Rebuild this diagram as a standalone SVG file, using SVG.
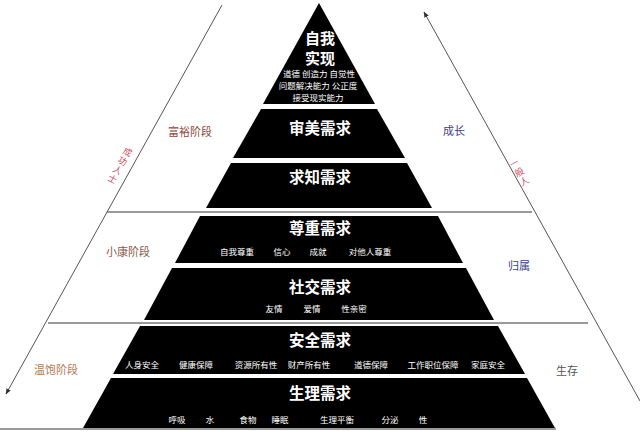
<svg xmlns="http://www.w3.org/2000/svg" width="640" height="432" viewBox="0 0 640 432">
<style>
.band{fill:#000}
.t{font-family:"Noto Sans CJK SC","Liberation Sans",sans-serif;fill:#fff;font-weight:bold;font-size:15.5px;text-anchor:middle}
.t2{font-family:"Noto Sans CJK SC","Liberation Sans",sans-serif;fill:#fff;font-weight:bold;font-size:15px;text-anchor:middle}
.s{font-family:"Noto Sans CJK SC","Liberation Sans",sans-serif;fill:#fff;font-size:8.5px;text-anchor:middle}
.l{font-family:"Noto Sans CJK SC","Liberation Sans",sans-serif;font-size:11px;text-anchor:middle}
.r{font-family:"Noto Sans CJK SC","Liberation Sans",sans-serif;font-size:9px;fill:#d04a66;text-anchor:middle}
.sep{stroke:#9a9a9a;stroke-width:2}
.diag{stroke:#555;stroke-width:1;fill:none}
</style>
<defs>
<marker id="ah" viewBox="0 0 10 10" refX="9" refY="5" markerWidth="6" markerHeight="6" orient="auto">
<path d="M0,1 L10,5 L0,9 z" fill="#333"/>
</marker>
</defs>
<rect width="640" height="432" fill="#fff"/>
<g id="connectors">
<line class="sep" x1="107" y1="212" x2="532" y2="212"/>
<line class="sep" x1="48" y1="323" x2="588" y2="323"/>
<line class="sep" x1="0" y1="429" x2="556" y2="429"/>
<line class="diag" x1="222" y1="5" x2="6" y2="394" marker-end="url(#ah)"/>
<line class="diag" x1="640" y1="401" x2="424" y2="12" marker-end="url(#ah)"/>
</g>
<g id="self-actualization">
<polygon class="band" points="319,3 375,104 263,104"/>
<text class="t2" x="320" y="44">自我</text>
<text class="t2" x="320" y="64">实现</text>
<text class="s" x="319" y="77">道德  创造力 自觉性</text>
<text class="s" x="318" y="89">问题解决能力   公正度</text>
<text class="s" x="318" y="101">接受现实能力</text>
</g>
<g id="aesthetic">
<polygon class="band" points="261,109 377,109 405,158 233,158"/>
<text class="t" x="320" y="134">审美需求</text>
</g>
<g id="cognitive">
<polygon class="band" points="231,163 407,163 432,208 206,208"/>
<text class="t" x="320" y="183">求知需求</text>
</g>
<g id="esteem">
<polygon class="band" points="200,216 438,216 463,263 175,263"/>
<text class="t" x="320" y="234">尊重需求</text>
<text class="s" x="237" y="255">自我尊重</text>
<text class="s" x="282" y="255">信心</text>
<text class="s" x="318" y="255">成就</text>
<text class="s" x="370" y="255">对他人尊重</text>
</g>
<g id="social">
<polygon class="band" points="172,268 466,268 494,320 144,320"/>
<text class="t" x="320" y="293">社交需求</text>
<text class="s" x="274" y="312">友情</text>
<text class="s" x="312" y="312">爱情</text>
<text class="s" x="354" y="312">性亲密</text>
</g>
<g id="safety">
<polygon class="band" points="140,326 498,326 525,374 113,374"/>
<text class="t" x="320" y="346">安全需求</text>
<text class="s" x="142" y="368">人身安全</text>
<text class="s" x="196" y="368">健康保障</text>
<text class="s" x="256" y="368">资源所有性</text>
<text class="s" x="309" y="368">财产所有性</text>
<text class="s" x="371" y="368">道德保障</text>
<text class="s" x="433" y="368">工作职位保障</text>
<text class="s" x="488" y="368">家庭安全</text>
</g>
<g id="physiological">
<polygon class="band" points="111,378 527,378 555,428 83,428"/>
<text class="t" x="320" y="399">生理需求</text>
<text class="s" x="177" y="423">呼吸</text>
<text class="s" x="210" y="423">水</text>
<text class="s" x="248" y="423">食物</text>
<text class="s" x="280" y="423">睡眠</text>
<text class="s" x="337" y="423">生理平衡</text>
<text class="s" x="390" y="423">分泌</text>
<text class="s" x="423" y="423">性</text>
</g>
<g id="side-labels">
<text class="l" x="190" y="136" fill="#8a4b3e">富裕阶段</text>
<text class="l" x="128" y="256" fill="#8a5a48">小康阶段</text>
<text class="l" x="56" y="374" fill="#b07a52">温饱阶段</text>
<text class="l" x="454" y="135" fill="#3c3c8a">成长</text>
<text class="l" x="519" y="270" fill="#3a3aa0">归属</text>
<text class="l" x="567" y="375" fill="#555">生存</text>
</g>
<g id="success-label">
<text class="r" transform="translate(126,155) rotate(29)">成</text>
<text class="r" transform="translate(121,164) rotate(29)">功</text>
<text class="r" transform="translate(116,173) rotate(29)">人</text>
<text class="r" transform="translate(111,182) rotate(29)">士</text>
</g>
<g id="ordinary-label">
<text class="r" transform="translate(516,166) rotate(-29)">一</text>
<text class="r" transform="translate(521,175) rotate(-29)">般</text>
<text class="r" transform="translate(526,184) rotate(-29)">人</text>
</g>
</svg>
